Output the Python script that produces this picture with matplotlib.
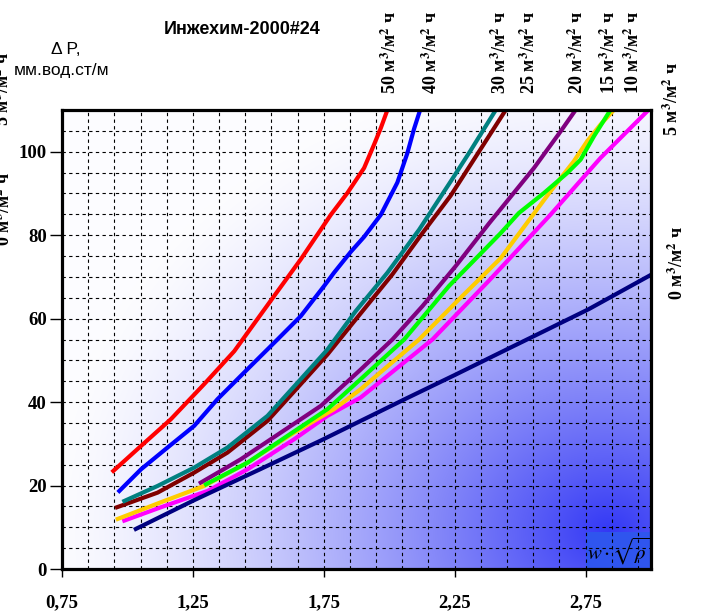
import numpy as np
import matplotlib
matplotlib.use('Agg')
from matplotlib import pyplot as plt
from matplotlib.patches import Rectangle

plt.rcParams['mathtext.fontset'] = 'stix'

# curves: x = w*sqrt(rho), y = dP (mm water/m), one per irrigation density
x50 = [0.946, 1.052, 1.166, 1.293, 1.408, 1.56, 1.662, 1.777, 1.84, 1.904, 1.942, 1.968, 1.993]
y50 = [23.5, 29.5, 35.9, 44.3, 52.2, 65.4, 74.2, 84.9, 90.1, 96.1, 101.7, 105.7, 110.0]
x40 = [0.969, 1.052, 1.153, 1.255, 1.344, 1.446, 1.573, 1.662, 1.751, 1.789, 1.853, 1.904, 1.968, 2.031, 2.069, 2.095, 2.118]
y40 = [18.7, 23.9, 29.1, 34.3, 40.7, 47.1, 55.0, 60.6, 67.8, 71.0, 76.0, 79.6, 84.9, 92.6, 99.6, 105.5, 110.0]
x30 = [0.988, 1.115, 1.255, 1.382, 1.535, 1.662, 1.764, 1.872, 1.993, 2.114, 2.235, 2.31, 2.407]
y30 = [16.3, 19.9, 24.3, 29.1, 36.7, 45.5, 52.6, 61.8, 71.0, 81.3, 92.9, 100.2, 110.0]
x25 = [0.96, 1.115, 1.255, 1.382, 1.535, 1.662, 1.764, 1.872, 2.012, 2.127, 2.235, 2.356, 2.445]
y25 = [14.8, 18.3, 23.1, 27.9, 35.5, 44.3, 51.4, 59.8, 70.6, 80.5, 89.5, 101.3, 110.0]
x20 = [1.28, 1.433, 1.586, 1.739, 1.891, 2.012, 2.127, 2.254, 2.381, 2.553, 2.655, 2.712]
y20 = [20.7, 26.3, 32.7, 39.1, 47.8, 55.0, 63.0, 72.6, 82.8, 96.1, 104.9, 110.0]
x15 = [1.30, 1.459, 1.611, 1.764, 1.891, 2.057, 2.228, 2.426, 2.495, 2.591, 2.68, 2.731, 2.782, 2.845]
y15 = [20.3, 25.5, 31.9, 38.3, 45.5, 55.0, 67.8, 80.5, 85.3, 90.1, 94.9, 98.1, 103.7, 110.0]
x10 = [0.963, 1.128, 1.293, 1.459, 1.637, 1.789, 1.891, 2.114, 2.279, 2.426, 2.527, 2.616, 2.66, 2.705, 2.756, 2.807, 2.858]
y10 = [12.0, 16.0, 19.9, 25.5, 32.7, 38.3, 43.1, 55.0, 65.4, 74.5, 83.0, 90.5, 94.1, 97.7, 102.5, 106.5, 110.0]
x5 = [0.988, 1.128, 1.306, 1.459, 1.637, 1.764, 1.891, 2.165, 2.381, 2.616, 2.807, 3.0]
y5 = [11.6, 14.8, 18.7, 23.9, 31.1, 36.7, 41.1, 55.0, 69.1, 84.9, 98.5, 110.6]
x0 = [1.032, 1.255, 1.51, 1.739, 1.891, 2.063, 2.254, 2.445, 2.585, 2.763, 3.0]
y0 = [9.6, 16.5, 24.0, 30.8, 35.5, 40.8, 46.6, 52.5, 56.8, 62.3, 70.5]

xticks = [0.75, 1.25, 1.75, 2.25, 2.75]
xticklabels = ['0,75', '1,25', '1,75', '2,25', '2,75']
yticks = [0, 20, 40, 60, 80, 100]

fig = plt.figure(figsize=(7.01, 6.14), dpi=100)
ax = fig.add_axes([62/701, 45/614, 589/701, 459/614])
ax.set_xlim(0.75, 3.0)
ax.set_ylim(0, 110)

# background: white top-left -> blue bottom-right
nx, ny = 300, 240
u = np.linspace(0, 1, nx)
v = np.linspace(1, 0, ny)
U, V = np.meshgrid(u, v)
d = np.sqrt(((U - 0.93) * 589) ** 2 + ((V - 0.08) * 459 * 1.2) ** 2)
t = np.clip(1 - d / 560, 0, 1) ** 1.4
white = np.array([0.99, 0.99, 1.0])
blue = np.array([0.20, 0.22, 0.96])
img = white[None, None, :] * (1 - t[..., None]) + blue[None, None, :] * t[..., None]
ax.imshow(img, extent=[0.75, 3.0, 0, 110], aspect='auto', zorder=0, interpolation='bilinear')

ax.add_patch(Rectangle((2.75, 0), 0.25, 8.8, facecolor='#2f55ee', edgecolor='none', zorder=1))
ax.text(2.875, 4.2, r'$w\cdot\sqrt{\rho}$', ha='center', va='center', fontsize=15, zorder=5)

lw = 3
ax.plot(x50, y50, color='#ff0000', lw=lw, zorder=3)
ax.plot(x40, y40, color='#0000ff', lw=lw, zorder=3)
ax.plot(x25, y25, color='#800000', lw=lw, zorder=3)
ax.plot(x30, y30, color='#008080', lw=lw, zorder=3)
ax.plot(x20, y20, color='#800080', lw=lw, zorder=3)
ax.plot(x5, y5, color='#ff00ff', lw=lw, zorder=3)
ax.plot(x10, y10, color='#ffcc00', lw=lw, zorder=3)
ax.plot(x15, y15, color='#00ff00', lw=lw, zorder=3)
ax.plot(x0, y0, color='#000080', lw=lw, zorder=3)

ax.set_xticks(xticks)
ax.set_xticklabels(xticklabels)
ax.set_yticks(yticks)
ax.set_xticks(np.arange(0.75, 3.0, 0.1), minor=True)
ax.set_yticks(np.arange(0, 110.1, 5), minor=True)
ax.grid(which='both', color='black', ls=(0, (3, 3)), lw=0.8, zorder=2)
ax.set_axisbelow(False)
ax.tick_params(which='minor', length=0)
ax.tick_params(axis='x', which='major', length=6, width=1, pad=12)
ax.tick_params(axis='y', which='major', length=9, width=1, pad=2)
for lab in ax.get_xticklabels() + ax.get_yticklabels():
    lab.set_fontfamily('Liberation Serif')
    lab.set_fontweight('bold')
    lab.set_fontsize(13.5)
for sp in ax.spines.values():
    sp.set_linewidth(2.3)
    sp.set_color('black')
    sp.set_zorder(6)

fig.text(242/701, 1 - 30/614, 'Инжехим-2000#24', ha='center', va='center',
         fontfamily='Liberation Sans', fontweight='bold', fontsize=13)
fig.text(66/701, 1 - 49/614, 'Δ P,', ha='center', va='center',
         fontfamily='Liberation Sans', fontsize=12.5)
fig.text(62/701, 1 - 70/614, 'мм.вод.ст/м', ha='center', va='center',
         fontfamily='Liberation Sans', fontsize=12.5)

# rotated labels of curves
lbl = lambda n: n + r' м$^{\mathbf{3}}$/м$^{\mathbf{2}}$ ч'
top_labels = [('50', 390), ('40', 431), ('30', 500), ('25', 529), ('20', 577), ('15', 609), ('10', 633)]
for n, px in top_labels:
    fig.text(px/701, 1 - 94/614, lbl(n), rotation=90, ha='center', va='bottom',
             fontfamily='Liberation Serif', fontweight='bold', fontsize=13)
fig.text(672/701, 1 - 136/614, lbl('5'), rotation=90, ha='center', va='bottom',
         fontfamily='Liberation Serif', fontweight='bold', fontsize=13)
fig.text(677/701, 1 - 300/614, lbl('0'), rotation=90, ha='center', va='bottom',
         fontfamily='Liberation Serif', fontweight='bold', fontsize=13)
# these two are cut by the left edge in the original as well
fig.text(3/701, 1 - 126/614, lbl('5'), rotation=90, ha='center', va='bottom',
         fontfamily='Liberation Serif', fontweight='bold', fontsize=13)
fig.text(4/701, 1 - 246/614, lbl('0'), rotation=90, ha='center', va='bottom',
         fontfamily='Liberation Serif', fontweight='bold', fontsize=13)

fig.savefig('out.png', dpi=100)
